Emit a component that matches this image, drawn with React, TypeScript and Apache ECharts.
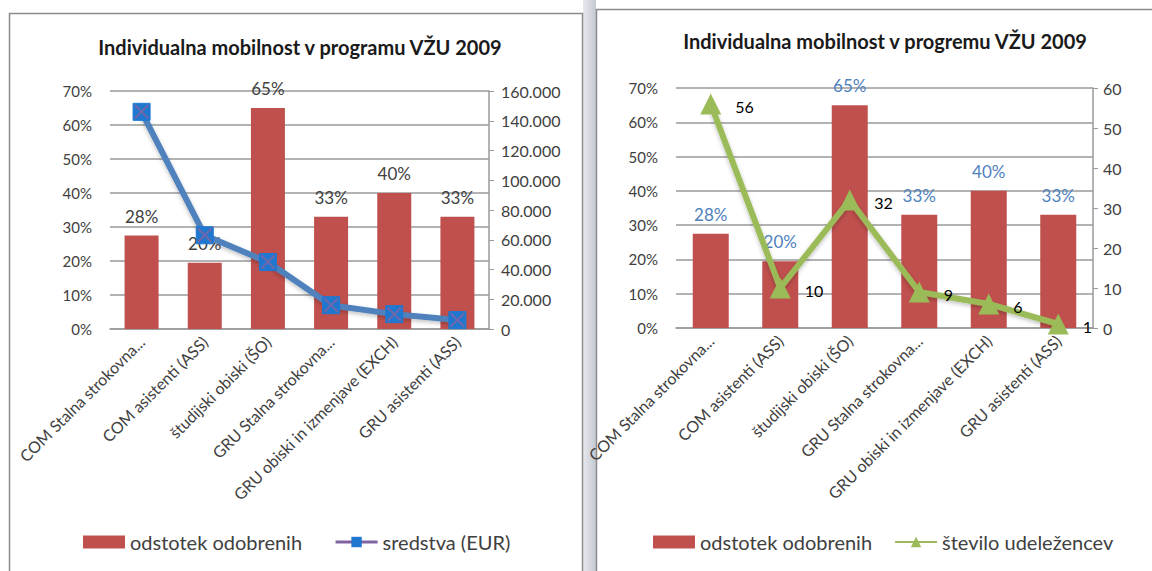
import React, { useEffect, useRef } from "react";
import * as echarts from "echarts";

const categories = [
  "COM Stalna strokovna...",
  "COM asistenti (ASS)",
  "študijski obiski (ŠO)",
  "GRU Stalna strokovna...",
  "GRU obiski in izmenjave (EXCH)",
  "GRU asistenti (ASS)",
];
const approvedShare = [0.275, 0.195, 0.65, 0.33, 0.4, 0.33];
const fundsEUR = [146000, 63000, 45000, 16000, 10000, 6000];
const participants = [56, 10, 32, 9, 6, 1];

const leftTitle = "Individualna mobilnost v programu VŽU 2009";
const rightTitle = "Individualna mobilnost v progremu VŽU 2009";
const barName = "odstotek odobrenih";
const fundsName = "sredstva (EUR)";
const partName = "število udeležencev";

const FONT = "Lato";
const AXIS_TXT = "#404040";
const GRID_LINE = "#9a9a9a";
const RED = "#C0504D";
const BLUE = "#4F81BD";
const GREEN = "#9BBB59";
const PURPLE = "#8064A2";

const pct = (v: number) => Math.round(v * 100) + "%";
const thousands = (v: number) => String(v).replace(/\B(?=(\d{3})+(?!\d))/g, ".");

export default function App() {
  const ref = useRef<HTMLDivElement>(null);
  useEffect(() => {
    if (!ref.current) return;
    const chart = echarts.init(ref.current, null, { renderer: "svg" });
    const xAxisBase = (gridIndex: number) => ({
      type: "category",
      gridIndex,
      data: categories,
      axisLine: { show: true, lineStyle: { color: GRID_LINE, width: 1.5 } },
      axisTick: { show: false },
      axisLabel: {
        interval: 0,
        rotate: 45,
        margin: 10,
        color: AXIS_TXT,
        fontSize: 16,
        fontFamily: FONT,
      },
    });
    const pctAxis = (gridIndex: number) => ({
      type: "value",
      gridIndex,
      min: 0,
      max: 0.7,
      interval: 0.1,
      position: "left",
      axisLine: { show: false },
      axisTick: { show: false },
      splitLine: { show: true, lineStyle: { color: GRID_LINE, width: 1.5 } },
      axisLabel: {
        formatter: (v: number) => pct(v),
        color: AXIS_TXT,
        fontSize: 15,
        fontFamily: FONT,
        margin: 18,
      },
    });
    const option: any = {
      animation: false,
      backgroundColor: "#ffffff",
      textStyle: { fontFamily: FONT },
      graphic: [
        {
          type: "rect",
          z: -10,
          shape: { x: 583, y: 0, width: 13, height: 571 },
          style: {
            fill: new echarts.graphic.LinearGradient(0, 0, 1, 0, [
              { offset: 0, color: "#e6e8ec" },
              { offset: 1, color: "#c4c9d2" },
            ]),
          },
        },
        {
          type: "rect",
          z: -9,
          shape: { x: 9.5, y: 13.5, width: 573, height: 570 },
          style: { fill: "#ffffff", stroke: "#8c8c8c", lineWidth: 1.5 },
        },
        {
          type: "rect",
          z: -9,
          shape: { x: 596.5, y: 9.5, width: 560, height: 570 },
          style: { fill: "#ffffff", stroke: "#8c8c8c", lineWidth: 1.5 },
        },
      ],
      title: [
        {
          text: leftTitle,
          left: 295,
          top: 32,
          textAlign: "center",
          textStyle: { fontFamily: FONT, fontSize: 20, fontWeight: "bold", color: "#1a1a1a" },
        },
        {
          text: rightTitle,
          left: 880,
          top: 26,
          textAlign: "center",
          textStyle: { fontFamily: FONT, fontSize: 20, fontWeight: "bold", color: "#1a1a1a" },
        },
      ],
      legend: [
        {
          left: 78,
          top: 527,
          itemWidth: 42,
          itemHeight: 13,
          itemGap: 32,
          textStyle: { fontFamily: FONT, fontSize: 20, color: AXIS_TXT },
          data: [
            { name: barName, icon: "rect" },
            { name: fundsName, lineStyle: { color: PURPLE, width: 3 } },
          ],
        },
        {
          left: 648,
          top: 527,
          itemWidth: 42,
          itemHeight: 13,
          itemGap: 22,
          textStyle: { fontFamily: FONT, fontSize: 20, color: AXIS_TXT },
          data: [{ name: barName, icon: "rect" }, { name: partName }],
        },
      ],
      grid: [
        { left: 110, top: 91, width: 379, height: 238 },
        { left: 676, top: 88, width: 417, height: 240 },
      ],
      xAxis: [xAxisBase(0), xAxisBase(1)],
      yAxis: [
        pctAxis(0),
        {
          type: "value",
          gridIndex: 0,
          min: 0,
          max: 160000,
          interval: 20000,
          position: "right",
          axisLine: { show: true, lineStyle: { color: GRID_LINE, width: 1.5 } },
          axisTick: { show: true, length: 5, lineStyle: { color: GRID_LINE } },
          splitLine: { show: false },
          axisLabel: {
            formatter: (v: number) => thousands(v),
            color: AXIS_TXT,
            fontSize: 16,
            fontFamily: FONT,
            margin: 12,
          },
        },
        pctAxis(1),
        {
          type: "value",
          gridIndex: 1,
          min: 0,
          max: 60,
          interval: 10,
          position: "right",
          axisLine: { show: true, lineStyle: { color: GRID_LINE, width: 1.5 } },
          axisTick: { show: true, length: 5, lineStyle: { color: GRID_LINE } },
          splitLine: { show: false },
          axisLabel: {
            color: AXIS_TXT,
            fontSize: 16,
            fontFamily: FONT,
            margin: 10,
          },
        },
      ],
      series: [
        {
          name: barName,
          type: "bar",
          xAxisIndex: 0,
          yAxisIndex: 0,
          data: approvedShare,
          barWidth: 34,
          itemStyle: { color: RED },
          label: {
            show: true,
            position: "top",
            distance: 11,
            formatter: (p: any) => pct(p.value),
            color: AXIS_TXT,
            fontSize: 17,
            fontFamily: FONT,
          },
        },
        {
          name: fundsName,
          type: "line",
          xAxisIndex: 0,
          yAxisIndex: 1,
          data: fundsEUR,
          symbol: "rect",
          symbolSize: 17,
          itemStyle: { color: "#1f77d0", borderColor: "#1f77d0" },
          lineStyle: {
            color: BLUE,
            width: 6,
            shadowColor: "rgba(0,0,0,0.25)",
            shadowBlur: 4,
            shadowOffsetY: 2,
          },
          z: 3,
        },
        {
          name: fundsName + " x",
          type: "scatter",
          xAxisIndex: 0,
          yAxisIndex: 1,
          data: fundsEUR,
          symbol:
            "path://M0,1 L1,0 L5,4 L9,0 L10,1 L6,5 L10,9 L9,10 L5,6 L1,10 L0,9 L4,5 Z",
          symbolSize: 15,
          itemStyle: { color: PURPLE },
          z: 4,
          silent: true,
        },
        {
          name: barName,
          type: "bar",
          xAxisIndex: 1,
          yAxisIndex: 2,
          data: approvedShare,
          barWidth: 36,
          itemStyle: { color: RED },
          label: {
            show: true,
            position: "top",
            distance: 11,
            formatter: (p: any) => pct(p.value),
            color: BLUE,
            fontSize: 17,
            fontFamily: FONT,
          },
        },
        {
          name: partName,
          type: "line",
          xAxisIndex: 1,
          yAxisIndex: 3,
          data: participants,
          symbol: "triangle",
          symbolSize: 21,
          itemStyle: { color: GREEN },
          lineStyle: {
            color: GREEN,
            width: 6,
            shadowColor: "rgba(0,0,0,0.25)",
            shadowBlur: 4,
            shadowOffsetY: 2,
          },
          label: {
            show: true,
            position: "right",
            distance: 14,
            offset: [0, 2],
            color: "#000",
            fontSize: 16,
            fontFamily: FONT,
          },
          z: 3,
        },
      ],
    };
    chart.setOption(option);
    return () => chart.dispose();
  }, []);
  return (
    <div
      ref={ref}
      style={{ position: "fixed", left: 0, top: 0, width: 1152, height: 571 }}
    />
  );
}
